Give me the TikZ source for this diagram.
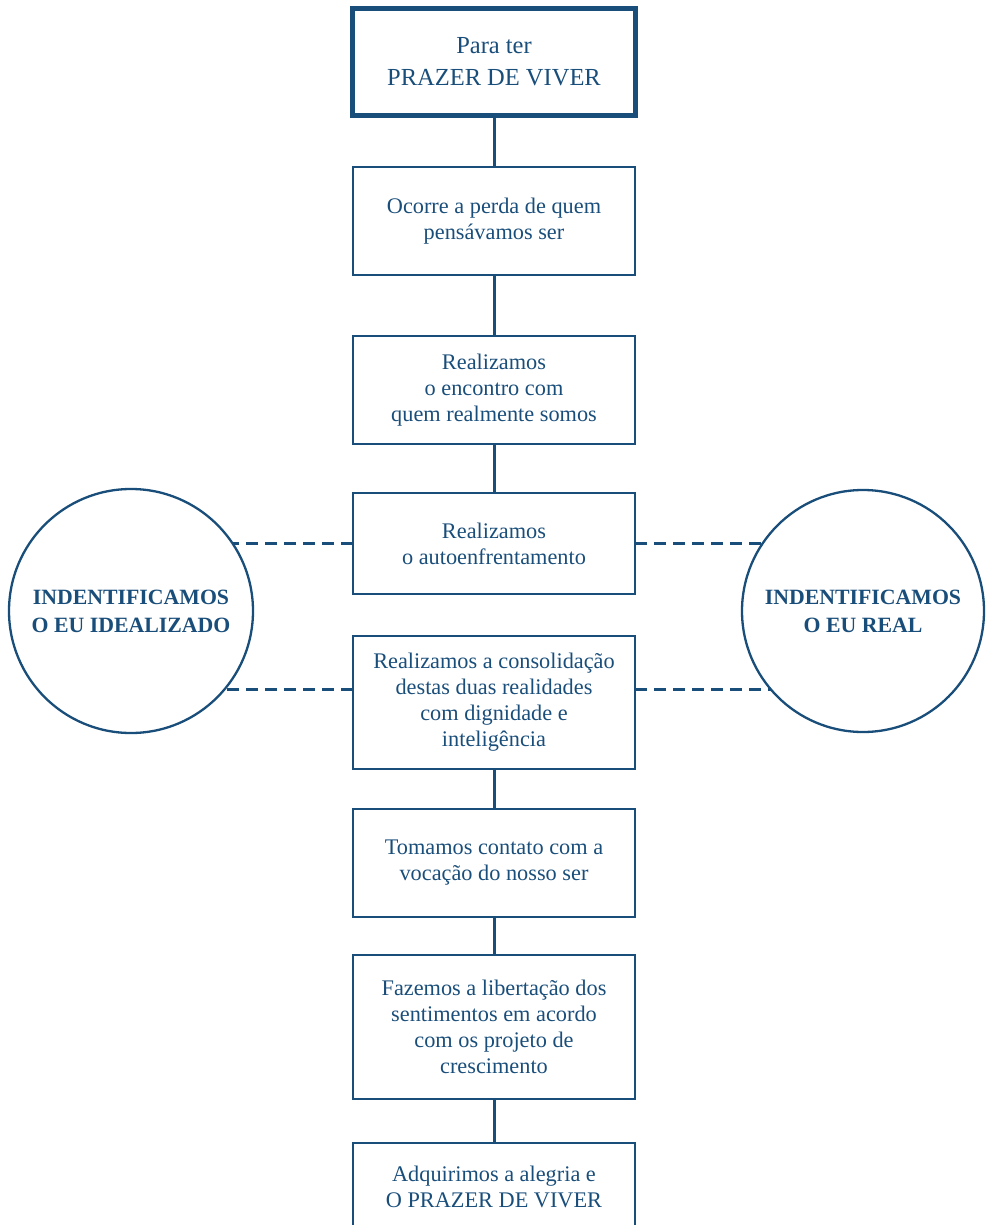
\documentclass[tikz,border=0pt]{standalone}
\usepackage{fontspec}
\setmainfont{Liberation Serif}
\definecolor{dblue}{RGB}{26,78,122}
\begin{document}
\begin{tikzpicture}[x=1pt,y=-1pt,
  box/.style={draw=dblue,line width=2.2pt,rectangle,minimum width=282pt,inner sep=0pt,outer sep=0pt,align=center,text=dblue,font=\fontsize{22.3}{26}\selectfont},
  topbox/.style={box,line width=5pt,minimum width=283pt,font=\fontsize{24.5}{32}\selectfont},
  ring/.style={draw=dblue,fill=white,line width=2.3pt,circle,inner sep=0pt,outer sep=0pt,align=center,text=dblue,font=\fontsize{21.8}{28}\selectfont\bfseries},
  link/.style={draw=dblue,line width=3pt},
  dashline/.style={draw=dblue,line width=3pt,dash pattern=on 12pt off 7pt}]
\useasboundingbox (0,0) rectangle (986,1225);
\clip (0,0) rectangle (986,1225);
\node[topbox,minimum height=107pt] (t) at (494,62) {Para ter\\PRAZER DE VIVER};
\node[box,minimum height=108pt] (b1) at (494,221) {Ocorre a perda de quem\\pensávamos ser};
\node[box,minimum height=108pt] (b2) at (494,390) {Realizamos\\o encontro com\\quem realmente somos};
\node[box,minimum height=101pt] (b3) at (494,543.5) {Realizamos\\o autoenfrentamento};
\node[box,minimum height=133pt] (b4) at (494,702.5) {Realizamos a consolidação\\destas duas realidades\\com dignidade e\\inteligência};
\node[box,minimum height=108pt] (b5) at (494,863) {Tomamos contato com a\\vocação do nosso ser};
\node[box,minimum height=144pt] (b6) at (494,1027) {Fazemos a libertação dos\\sentimentos em acordo\\com os projeto de\\crescimento};
\node[box,minimum height=88pt] (b7) at (494,1187) {Adquirimos a alegria e\\O PRAZER DE VIVER};
\coordinate (lc0) at (131,611);
\coordinate (rc0) at (863,611);
\coordinate (d1) at (b3.west |- 0,543);
\coordinate (d2) at (b4.west |- 0,689);
\coordinate (d3) at (b3.east |- 0,543);
\coordinate (d4) at (b4.east |- 0,689);
\draw[dashline] (d1) -- (d1 -| lc0);
\draw[dashline] (d2) -- (d2 -| lc0);
\draw[dashline] (d3) -- (d3 -| rc0);
\draw[dashline] (d4) -- (d4 -| rc0);
\node[ring,minimum size=244pt] (lc) at (lc0) {INDENTIFICAMOS\\O EU IDEALIZADO};
\node[ring,minimum size=242pt] (rc) at (rc0) {INDENTIFICAMOS\\O EU REAL};
\draw[link] (t.south) -- (b1.north);
\draw[link] (b1.south) -- (b2.north);
\draw[link] (b2.south) -- (b3.north);
\draw[link] (b4.south) -- (b5.north);
\draw[link] (b5.south) -- (b6.north);
\draw[link] (b6.south) -- (b7.north);
\end{tikzpicture}
\end{document}
